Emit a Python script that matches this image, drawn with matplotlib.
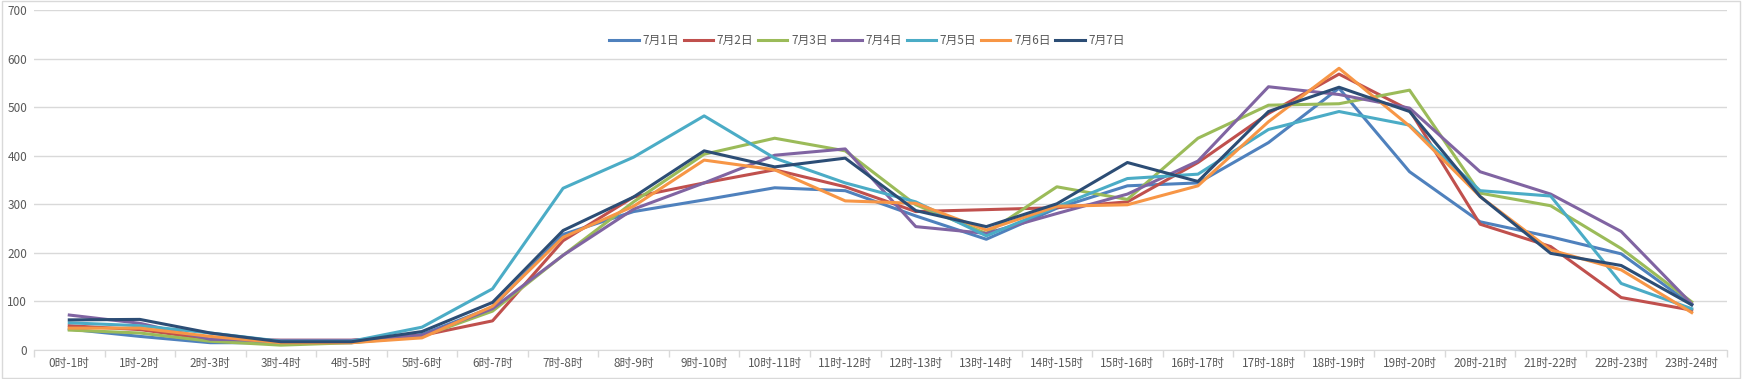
import numpy as np
import matplotlib.pyplot as plt
from matplotlib.patches import Rectangle

plt.rcParams['font.family'] = ['Noto Sans CJK SC', 'DejaVu Sans']

hours = [f'{h}时-{h + 1}时' for h in range(24)]

jul1 = [43, 28, 15, 15, 15, 32, 88, 238, 285, 309, 334, 328, 276, 228, 292, 338, 344, 427, 539, 367, 264, 233, 198, 93]
jul2 = [50, 42, 22, 20, 20, 30, 60, 225, 315, 344, 371, 336, 285, 289, 293, 305, 386, 487, 568, 494, 259, 213, 108, 82]
jul3 = [41, 35, 18, 10, 15, 28, 80, 195, 305, 403, 436, 410, 299, 240, 336, 310, 436, 504, 507, 535, 323, 297, 209, 99]
jul4 = [72, 55, 22, 20, 20, 30, 85, 195, 290, 344, 401, 414, 254, 240, 281, 321, 389, 542, 526, 498, 367, 321, 244, 95]
jul5 = [56, 50, 35, 18, 18, 47, 126, 333, 397, 482, 395, 344, 305, 235, 295, 353, 362, 454, 491, 463, 328, 317, 137, 85]
jul6 = [45, 45, 28, 15, 15, 25, 90, 232, 296, 391, 371, 307, 302, 247, 296, 299, 338, 470, 580, 461, 316, 206, 165, 77]
jul7 = [62, 63, 35, 17, 17, 38, 98, 246, 315, 410, 377, 395, 287, 254, 301, 386, 347, 491, 541, 491, 316, 199, 174, 93]

series = [
    ('7月1日', jul1, '#4F81BD'),
    ('7月2日', jul2, '#C0504D'),
    ('7月3日', jul3, '#9BBB59'),
    ('7月4日', jul4, '#8064A2'),
    ('7月5日', jul5, '#4BACC6'),
    ('7月6日', jul6, '#F79646'),
    ('7月7日', jul7, '#2C4D75'),
]

fig = plt.figure(figsize=(17.42, 3.79), dpi=100)
ax = fig.add_axes([34 / 1742, 29 / 379, (1727 - 34) / 1742, 340 / 379])

x = np.arange(len(hours))
for name, vals, col in series:
    ax.plot(x, vals, color=col, lw=2.2, label=name, solid_joinstyle='round')

ax.set_xlim(-0.5, len(hours) - 0.5)
ax.set_ylim(0, 700)
ax.set_yticks(range(0, 701, 100))
ax.set_xticks(np.arange(-0.5, len(hours), 1.0))
ax.set_xticklabels([])
ax.set_xticks(x, minor=True)
ax.set_xticklabels(hours, minor=True)
ax.tick_params(axis='x', which='major', length=5, color='#D9D9D9', width=1)
ax.tick_params(axis='x', which='minor', length=0, labelsize=8.5, colors='#595959', pad=5)
ax.tick_params(axis='y', length=0, labelsize=8.5, colors='#595959', pad=5)

ax.grid(axis='y', color='#D9D9D9', lw=1)
ax.set_axisbelow(True)
for s in ['top', 'right', 'left']:
    ax.spines[s].set_visible(False)
ax.spines['bottom'].set_color('#D9D9D9')

leg = ax.legend(loc='upper center', bbox_to_anchor=(0.492, 0.96), ncol=7, frameon=False,
                fontsize=8.5, handlelength=2.5, columnspacing=0.4, handletextpad=0.3,
                labelcolor='#595959')

fig.patches.append(Rectangle((0.001, 0.002), 0.998, 0.995, transform=fig.transFigure,
                             fill=False, edgecolor='#D9D9D9', lw=1))

fig.savefig('out.png', dpi=100)
